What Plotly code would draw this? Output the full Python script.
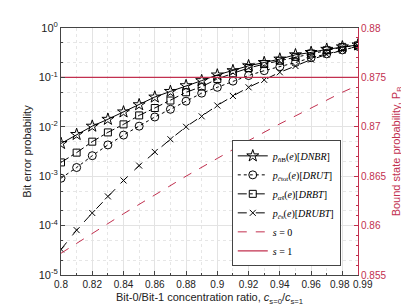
import plotly.graph_objects as go

x = [0.80, 0.81, 0.82, 0.83, 0.84, 0.85, 0.86, 0.87, 0.88, 0.89,
     0.90, 0.91, 0.92, 0.93, 0.94, 0.95, 0.96, 0.97, 0.98, 0.99]

p_dnbr = [4.6e-3, 7.0e-3, 1.03e-2, 1.42e-2, 2.0e-2, 2.8e-2, 4.0e-2, 5.2e-2, 6.8e-2, 8.6e-2,
          0.112, 0.137, 0.172, 0.200, 0.235, 0.287, 0.320, 0.370, 0.415, 0.455]
p_drut = [9.1e-4, 1.5e-3, 2.6e-3, 4.3e-3, 6.8e-3, 1.03e-2, 1.58e-2, 2.26e-2, 3.3e-2, 4.8e-2,
          6.3e-2, 8.4e-2, 0.109, 0.137, 0.165, 0.200, 0.250, 0.300, 0.360, 0.425]
p_drbt = [1.9e-3, 3.0e-3, 5.0e-3, 7.7e-3, 1.12e-2, 1.7e-2, 2.4e-2, 3.4e-2, 5.0e-2, 6.5e-2,
          9.3e-2, 0.121, 0.155, 0.186, 0.217, 0.260, 0.305, 0.355, 0.410, 0.445]
p_drubt = [3.3e-5, 8.1e-5, 1.8e-4, 3.9e-4, 8.2e-4, 1.64e-3, 3.1e-3, 5.6e-3, 1.0e-2, 1.63e-2,
           2.7e-2, 4.2e-2, 6.3e-2, 8.9e-2, 0.127, 0.170, 0.230, 0.290, 0.350, 0.430]

x_pb = [0.80, 0.82, 0.84, 0.86, 0.88, 0.90, 0.92, 0.94, 0.96, 0.98, 0.99]
pb_s0 = [0.8572, 0.8592, 0.8612, 0.8631, 0.8650, 0.8668, 0.8686, 0.8703, 0.8719, 0.8735, 0.8742]
pb_s1 = [0.875] * len(x_pb)

x_ticks = [0.8, 0.82, 0.84, 0.86, 0.88, 0.9, 0.92, 0.94, 0.96, 0.98, 0.99]
x_ticktext = ["0.8", "0.82", "0.84", "0.86", "0.88", "0.9", "0.92", "0.94", "0.96", "", ""]
x_end_labels = ["0.98", "0.99"]
y_ticks = [1e-5, 1e-4, 1e-3, 1e-2, 1e-1, 1]
y_ticktext = ["10<sup>-5</sup>", "10<sup>-4</sup>", "10<sup>-3</sup>", "10<sup>-2</sup>",
              "10<sup>-1</sup>", "10<sup>0</sup>"]
y2_ticks = [0.855, 0.86, 0.865, 0.87, 0.875, 0.88]
y2_ticktext = ["0.855", "0.86", "0.865", "0.87", "0.875", "0.88"]

RED = "#c2304f"
LEG_FONT = "Liberation Serif"
TICK_COLOR = "#222"

fig = go.Figure()

def add_series(y, name, symbol, dash, size):
    fig.add_trace(go.Scatter(
        x=x, y=y, name=name, mode="lines+markers",
        line=dict(color="black", width=1, dash=dash),
        marker=dict(symbol=symbol, size=size, color="black",
                    line=dict(color="black", width=1)),
    ))

add_series(p_dnbr, "<i>p</i><sub><i>n̂</i>B</sub>(<i>e</i>)[<i>DNBR</i>]", "star-open", "solid", 9)
add_series(p_drut, "<i>p</i><sub><i>ĉ</i>tot</sub>(<i>e</i>)[<i>DRUT</i>]", "circle-open", "dot", 8)
add_series(p_drbt, "<i>p</i><sub><i>α̂</i>s</sub>(<i>e</i>)[<i>DRBT</i>]", "square-open", "dashdot", 7)
add_series(p_drubt, "<i>p</i><sub><i>ĉ</i>s</sub>(<i>e</i>)[<i>DRUBT</i>]", "x-thin-open", "dash", 6)

fig.add_trace(go.Scatter(x=x_pb, y=pb_s0, name="<i>s</i> = 0", mode="lines", yaxis="y2",
                         line=dict(color=RED, width=1, dash="dash")))
fig.add_trace(go.Scatter(x=x_pb, y=pb_s1, name="<i>s</i> = 1", mode="lines", yaxis="y2",
                         line=dict(color=RED, width=1.3)))

# the two closely spaced end tick labels, placed as annotations so they abut without overlap
fig.add_annotation(x=x_ticks[-1], y=0, xref="x", yref="paper", text=x_end_labels[0],
                   showarrow=False, xanchor="right", yanchor="top", xshift=-7, yshift=-3,
                   borderpad=0, font=dict(size=10, color=TICK_COLOR))
fig.add_annotation(x=x_ticks[-1], y=0, xref="x", yref="paper", text=x_end_labels[1],
                   showarrow=False, xanchor="left", yanchor="top", xshift=-6, yshift=-3,
                   borderpad=0, font=dict(size=10, color=TICK_COLOR))

fig.update_layout(
    width=409, height=307,
    margin=dict(l=53, r=59, t=17, b=40),
    paper_bgcolor="white", plot_bgcolor="white",
    font=dict(family="Liberation Sans", size=10, color=TICK_COLOR),
    xaxis=dict(
        range=[0.8, 0.99], tickmode="array", tickvals=x_ticks, ticktext=x_ticktext,
        tickangle=0, tickfont=dict(size=10),
        ticks="inside", ticklen=4, tickcolor="#444",
        showline=True, linecolor="#444", linewidth=1, mirror=True,
        showgrid=True, gridcolor="#e3e3e3", zeroline=False,
        minor=dict(dtick=0.01, tick0=0.8, ticks="inside", ticklen=2, tickcolor="#444",
                   showgrid=True, gridcolor="#e6e6e6", griddash="dot"),
        title=dict(text="Bit-0/Bit-1 concentration ratio, <i>c</i><sub>s=0</sub>/<i>c</i><sub>s=1</sub>",
                   font=dict(size=11), standoff=4),
    ),
    yaxis=dict(
        type="log", range=[-5, 0], tickmode="array", tickvals=y_ticks, ticktext=y_ticktext,
        ticks="inside", ticklen=4, tickcolor="#444", tickfont=dict(size=11),
        showline=True, linecolor="#444", linewidth=1,
        showgrid=True, gridcolor="#e3e3e3", zeroline=False,
        minor=dict(ticks="inside", ticklen=2, tickcolor="#444",
                   showgrid=True, gridcolor="#e6e6e6", griddash="dot"),
        title=dict(text="Bit error probability", font=dict(size=11), standoff=4),
    ),
    yaxis2=dict(
        overlaying="y", side="right", range=[0.855, 0.88],
        tickmode="array", tickvals=y2_ticks, ticktext=y2_ticktext,
        ticks="inside", ticklen=4, tickcolor=RED, tickfont=dict(color=RED, size=10),
        showline=True, linecolor=RED, linewidth=1, showgrid=False, zeroline=False,
        minor=dict(dtick=0.001, ticks="inside", ticklen=2, tickcolor=RED),
        title=dict(text="Bound state probability, P<sub>B</sub>",
                   font=dict(size=11, color=RED), standoff=6),
    ),
    legend=dict(
        x=0.575, y=0.035, xanchor="left", yanchor="bottom",
        bgcolor="white", bordercolor="#444", borderwidth=1,
        font=dict(family=LEG_FONT, size=10, color="black"),
        tracegroupgap=0, itemwidth=30,
    ),
    showlegend=True,
)

fig.write_html("out.html")
